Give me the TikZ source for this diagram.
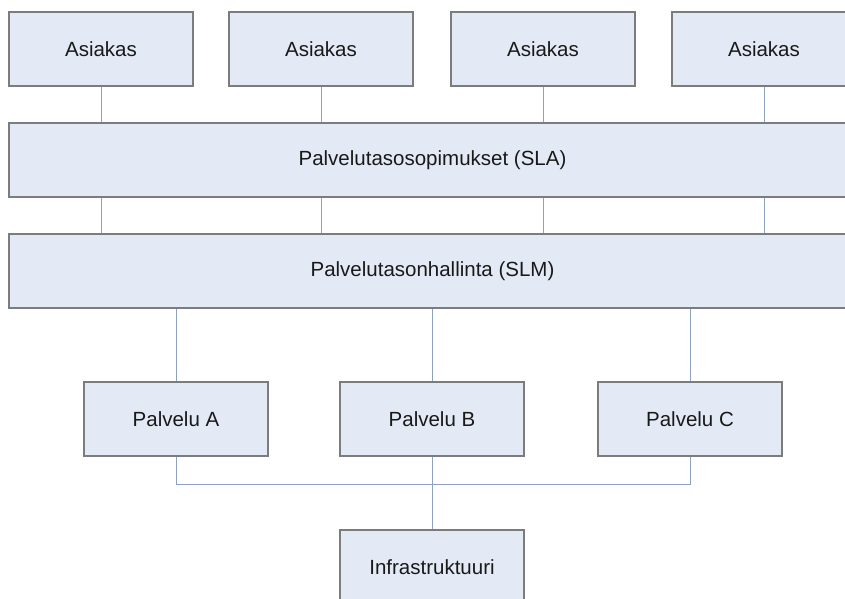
\documentclass[tikz,border=0pt]{standalone}
\usepackage{fontspec}
\setmainfont{Liberation Sans}
\definecolor{boxfill}{HTML}{E4EAF5}
\definecolor{boxline}{HTML}{7C7C7C}
\definecolor{linkline}{HTML}{8CA2BE}
\begin{document}
\begin{tikzpicture}[x=1pt,y=-1pt,
  box/.style={draw=boxline, fill=boxfill, line width=1.1pt, inner sep=0pt,
    font=\fontsize{20.5}{24}\selectfont, text=black!90},
  smallbox/.style={box, minimum width=184pt, minimum height=74pt},
  widebox/.style={box, minimum width=847pt, minimum height=74pt},
  link/.style={draw=linkline, line width=1pt}]
\path[use as bounding box, clip] (0,0) rectangle (845,598);

% customers
\node[smallbox] (a1) at (101,49) {Asiakas};
\node[smallbox] (a2) at (321,49) {Asiakas};
\node[smallbox] (a3) at (543,49) {Asiakas};
\node[smallbox] (a4) at (764,49) {Asiakas};

% agreement and management layers
\node[widebox] (sla) at (432.5,160) {Palvelutasosopimukset (SLA)};
\node[widebox] (slm) at (432.5,271) {Palvelutasonhallinta (SLM)};

% services
\node[smallbox] (pA) at (176,419) {Palvelu A};
\node[smallbox] (pB) at (432,419) {Palvelu B};
\node[smallbox] (pC) at (690,419) {Palvelu C};

% infrastructure
\node[smallbox] (inf) at (432,567) {Infrastruktuuri};

% connectors
\foreach \n in {a1,a2,a3,a4}{
  \draw[link] (\n.south) -- (\n.south |- sla.north);
  \draw[link] (\n.south |- sla.south) -- (\n.south |- slm.north);
}
\foreach \n in {pA,pB,pC}{
  \draw[link] (\n.north |- slm.south) -- (\n.north);
}
\coordinate (bus) at ([yshift=-27.5pt]pA.south);
\draw[link] (pA.south) -- (bus) -| (pC.south);
\draw[link] (pB.south) -- (inf.north);
\end{tikzpicture}
\end{document}
